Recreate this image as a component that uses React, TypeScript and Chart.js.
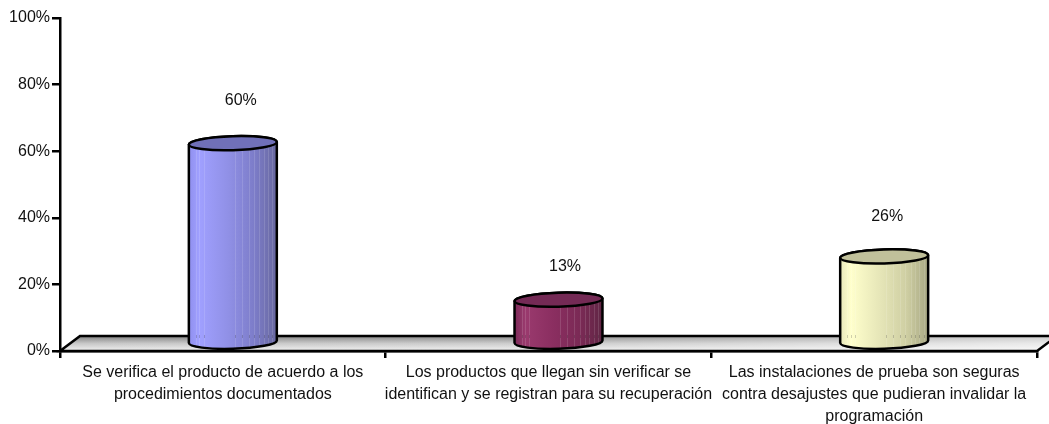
import React, { useEffect, useRef } from "react";
import { Chart, registerables } from "chart.js";

Chart.register(...registerables);

const categories = [
  ["Se verifica el producto de acuerdo a los", "procedimientos documentados"],
  ["Los productos que llegan sin verificar se", "identifican y se registran para su recuperación"],
  ["Las instalaciones de prueba son seguras", "contra desajustes que pudieran invalidar la", "programación"],
];
const values = [60, 13, 26];
const valueLabels = ["60%", "13%", "26%"];
const labelOffsetX = [18, 16.5, 13];
const labelOffsetY = [51, 41.5, 48];
const bodyStops = [
  ["#8f8fee", "#a0a0ff", "#9090e6", "#7c7cc8", "#68689f"],
  ["#7c2a58", "#9a3a6e", "#8a2e60", "#7a2a55", "#612645"],
  ["#e8e8bc", "#ffffcc", "#e6e6b8", "#cfcfa3", "#a8a884"],
];
const capColors = ["#7070b8", "#742a55", "#c0c09a"];
const stripeFractions = [0.08, 0.12, 0.17, 0.52, 0.6, 0.68, 0.74, 0.8, 0.85, 0.9, 0.95];
const FONT = "'Liberation Sans', Arial, sans-serif";
const FONT_SIZE = 16;
const LINE = 2.5;
const DEPTH_X = 20;
const DEPTH_Y = 15;
const BAR_SHIFT_X = 10;
const BAR_SHIFT_Y = 8;
const RX = 44;
const RY = 7;
const TILT = -0.03;

const cylinderPlugin = {
  id: "cylinders",
  beforeDatasetsDraw(chart: any) {
    const { ctx, chartArea: a } = chart;
    ctx.save();
    const path = new Path2D();
    path.moveTo(a.left, a.bottom);
    path.lineTo(a.left + DEPTH_X, a.bottom - DEPTH_Y);
    path.lineTo(a.right + DEPTH_X, a.bottom - DEPTH_Y);
    path.lineTo(a.right, a.bottom);
    path.closePath();
    const g = ctx.createLinearGradient(0, a.bottom - DEPTH_Y, 0, a.bottom);
    g.addColorStop(0, "#808080");
    g.addColorStop(0.5, "#c8c8c8");
    g.addColorStop(1, "#f2f2f2");
    ctx.fillStyle = g;
    ctx.fill(path);
    const h = ctx.createLinearGradient(a.left, 0, a.right, 0);
    h.addColorStop(0, "rgba(255,255,255,0)");
    h.addColorStop(0.5, "rgba(255,255,255,0.1)");
    h.addColorStop(1, "rgba(255,255,255,0.6)");
    ctx.fillStyle = h;
    ctx.fill(path);
    ctx.strokeStyle = "#000";
    ctx.lineWidth = LINE;
    ctx.stroke(path);
    ctx.restore();
  },
  afterDatasetsDraw(chart: any) {
    const { ctx, chartArea: a } = chart;
    const meta = chart.getDatasetMeta(0);
    meta.data.forEach((bar: any, i: number) => {
      const cx = bar.x + BAR_SHIFT_X;
      const yTop = bar.y - BAR_SHIFT_Y;
      const yBot = bar.base - BAR_SHIFT_Y;
      ctx.save();
      const g = ctx.createLinearGradient(cx - RX, 0, cx + RX, 0);
      bodyStops[i].forEach((c, k) => g.addColorStop([0, 0.12, 0.45, 0.75, 1][k], c));
      const body = new Path2D();
      body.ellipse(cx, yBot, RX, RY, TILT, Math.PI, 0, true);
      body.ellipse(cx, yTop, RX, RY, TILT, 0, Math.PI, true);
      body.closePath();
      ctx.fillStyle = g;
      ctx.fill(body);
      ctx.save();
      ctx.clip(body);
      ctx.lineWidth = 1;
      stripeFractions.forEach((f) => {
        const x = Math.round(cx - RX + 2 * RX * f) + 0.5;
        ctx.strokeStyle = "rgba(255,255,255,0.13)";
        ctx.beginPath();
        ctx.moveTo(x, yTop - 10);
        ctx.lineTo(x, yBot + 10);
        ctx.stroke();
        ctx.strokeStyle = "rgba(0,0,0,0.18)";
        ctx.beginPath();
        ctx.moveTo(x, a.bottom - DEPTH_Y - 1);
        ctx.lineTo(x, a.bottom - DEPTH_Y + 2);
        ctx.stroke();
      });
      ctx.restore();
      ctx.strokeStyle = "#000";
      ctx.lineWidth = LINE;
      ctx.stroke(body);
      const cap = new Path2D();
      cap.ellipse(cx, yTop, RX, RY, TILT, 0, Math.PI * 2);
      ctx.fillStyle = capColors[i];
      ctx.fill(cap);
      ctx.stroke(cap);
      ctx.fillStyle = "#111";
      ctx.font = `${FONT_SIZE}px ${FONT}`;
      ctx.textAlign = "center";
      ctx.textBaseline = "middle";
      ctx.fillText(valueLabels[i], bar.x + labelOffsetX[i], bar.y - labelOffsetY[i]);
      ctx.restore();
    });
  },
};

export default function App() {
  const ref = useRef<HTMLCanvasElement>(null);
  useEffect(() => {
    const chart = new Chart(ref.current!, {
      type: "bar",
      data: {
        labels: categories as any,
        datasets: [{ data: values, backgroundColor: "transparent", borderWidth: 0 }],
      },
      plugins: [cylinderPlugin],
      options: {
        animation: false,
        responsive: false,
        layout: { padding: { top: 18, right: 12, left: 0, bottom: 0 } },
        plugins: { legend: { display: false }, tooltip: { enabled: false } },
        scales: {
          x: {
            afterFit: (s: any) => { s.height = 73; },
            border: { color: "#000", width: LINE },
            grid: { drawOnChartArea: false, color: "#000", lineWidth: LINE, tickLength: 7 },
            ticks: { color: "#111", font: { family: FONT, size: FONT_SIZE, lineHeight: 1.375 }, maxRotation: 0, padding: 4, autoSkip: false },
          },
          y: {
            min: 0,
            max: 100,
            afterFit: (s: any) => { s.width = 60; },
            border: { color: "#000", width: LINE },
            grid: { drawOnChartArea: false, color: "#000", lineWidth: LINE, tickLength: 8 },
            ticks: { stepSize: 20, color: "#111", font: { family: FONT, size: FONT_SIZE }, padding: 2, callback: (v: any) => `${v}%` },
          },
        },
      },
    });
    return () => chart.destroy();
  }, []);
  return (
    <div style={{ position: "fixed", left: 0, top: 0, width: 1049, height: 424, background: "#fff" }}>
      <canvas ref={ref} width={1049} height={424} style={{ display: "block" }} />
    </div>
  );
}
